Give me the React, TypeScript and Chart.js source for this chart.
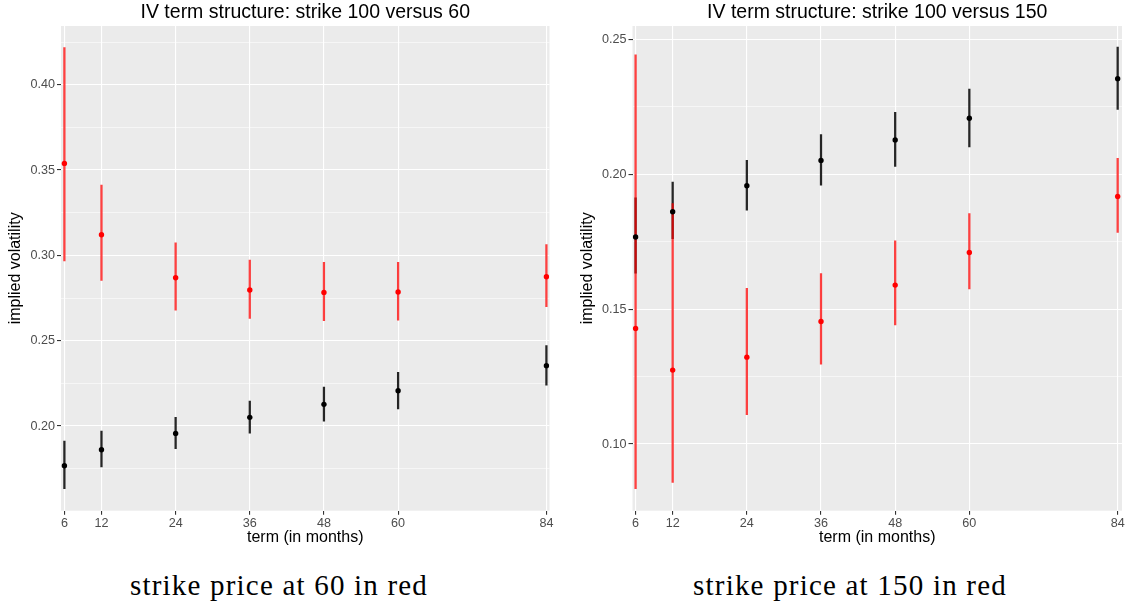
import React, { useEffect, useRef } from "react";
import { Chart, registerables } from "chart.js";

Chart.register(...registerables);

// ---- data ----
const terms = [6, 12, 24, 36, 48, 60, 84];

// strike 100 (black)
const iv100 = [0.1767, 0.1861, 0.1957, 0.2051, 0.2127, 0.2207, 0.2354];
const iv100Lo = [0.1633, 0.1761, 0.1867, 0.1959, 0.2029, 0.2101, 0.224];
const iv100Hi = [0.1912, 0.1971, 0.2051, 0.2147, 0.2229, 0.2315, 0.2471];

// strike 60 (red, left panel)
const iv60 = [0.3539, 0.3121, 0.2869, 0.2797, 0.2783, 0.2785, 0.2875];
const iv60Lo = [0.2968, 0.2853, 0.2679, 0.2631, 0.2617, 0.2621, 0.2699];
const iv60Hi = [0.4217, 0.3412, 0.3074, 0.2972, 0.2959, 0.2959, 0.3064];

// strike 150 (red, right panel)
const iv150 = [0.1428, 0.1274, 0.1322, 0.1454, 0.1589, 0.171, 0.1917];
const iv150Lo = [0.0835, 0.0858, 0.1109, 0.1296, 0.1441, 0.1575, 0.1784];
const iv150Hi = [0.2442, 0.1891, 0.1577, 0.1632, 0.1753, 0.1854, 0.2059];

const leftYMajor = [0.2, 0.25, 0.3, 0.35, 0.4];
const leftYMinor = [0.175, 0.225, 0.275, 0.325, 0.375, 0.425];
const rightYMajor = [0.1, 0.15, 0.2, 0.25];
const rightYMinor = [0.125, 0.175, 0.225];

const SANS = '"Liberation Sans", Arial, Helvetica, sans-serif';
const SERIF = '"Liberation Serif", "Times New Roman", serif';

type PanelProps = {
  title: string;
  red: number[];
  redLo: number[];
  redHi: number[];
  yMin: number;
  yMax: number;
  yMajor: number[];
  yMinor: number[];
  xMin: number;
  xMax: number;
  left: number;
  width: number;
  height: number;
  axisW: number;
  yTitlePad: number;
  padRight: number;
  plotBottom: number;
};

function Panel(p: PanelProps) {
  const ref = useRef<HTMLCanvasElement>(null);
  useEffect(() => {
    const canvas = ref.current;
    if (!canvas) return;
    const isMajor = (v: number) => p.yMajor.some((m) => Math.abs(m - v) < 1e-9);
    const yTicks = [...p.yMinor, ...p.yMajor].sort((a, b) => a - b);
    const bgPlugin = {
      id: "panelBg",
      beforeDraw(chart: any) {
        const { ctx, chartArea: a } = chart;
        ctx.save();
        ctx.fillStyle = "#EBEBEB";
        ctx.fillRect(a.left, a.top, a.right - a.left, a.bottom - a.top);
        ctx.restore();
      },
    };
    const chart = new Chart(canvas, {
      type: "scatter",
      data: {
        datasets: [
          {
            type: "bar",
            data: terms.map((t, i) => ({ x: t, y: [iv100Lo[i], iv100Hi[i]] })),
            backgroundColor: "rgba(0,0,0,0.85)",
            borderWidth: 0,
            barThickness: 1.6,
            grouped: false,
            order: 4,
          } as any,
          {
            type: "bar",
            data: terms.map((t, i) => ({ x: t, y: [p.redLo[i], p.redHi[i]] })),
            backgroundColor: "rgba(255,0,0,0.75)",
            borderWidth: 0,
            barThickness: 1.6,
            grouped: false,
            order: 3,
          } as any,
          {
            type: "scatter",
            data: terms.map((t, i) => ({ x: t, y: iv100[i] })),
            pointRadius: 2.7,
            pointBackgroundColor: "#000000",
            pointBorderWidth: 0,
            order: 2,
          },
          {
            type: "scatter",
            data: terms.map((t, i) => ({ x: t, y: p.red[i] })),
            pointRadius: 2.7,
            pointBackgroundColor: "#FF0000",
            pointBorderWidth: 0,
            order: 1,
          },
        ],
      },
      options: {
        animation: false,
        responsive: false,
        devicePixelRatio: 1,
        layout: { padding: { left: 0, right: p.padRight, top: 0, bottom: 0 } },
        plugins: {
          legend: { display: false },
          tooltip: { enabled: false },
          title: {
            display: true,
            text: p.title,
            fullSize: false,
            color: "#000000",
            font: { family: SANS, size: 19.5, weight: "normal" },
            padding: { top: 1.3, bottom: 1.3 },
          },
        },
        scales: {
          x: {
            type: "linear",
            min: p.xMin,
            max: p.xMax,
            offset: false,
            afterBuildTicks: (s: any) => {
              s.ticks = terms.map((v) => ({ value: v }));
            },
            afterFit: (s: any) => {
              s.height = p.height - p.plotBottom;
            },
            grid: {
              offset: false,
              color: "#FFFFFF",
              lineWidth: 1.1,
              tickColor: "#333333",
              tickLength: 4,
              tickWidth: 1.1,
            },
            border: { display: false },
            ticks: {
              color: "#4D4D4D",
              font: { family: SANS, size: 12.6 },
              padding: 1,
              maxRotation: 0,
              autoSkip: false,
              callback: (v: any) => String(v),
            },
            title: {
              display: true,
              text: "term (in months)",
              color: "#000000",
              font: { family: SANS, size: 16 },
              padding: { top: 0, bottom: 2.9 },
            },
          },
          y: {
            type: "linear",
            min: p.yMin,
            max: p.yMax,
            afterBuildTicks: (s: any) => {
              s.ticks = yTicks.map((v) => ({ value: v }));
            },
            afterFit: (s: any) => {
              s.width = p.axisW;
            },
            grid: {
              color: "#FFFFFF",
              lineWidth: (c: any) => (c.tick && isMajor(c.tick.value) ? 1.1 : 0.55),
              tickColor: (c: any) =>
                c.tick && isMajor(c.tick.value) ? "#333333" : "rgba(0,0,0,0)",
              tickLength: 4,
              tickWidth: 1.1,
            },
            border: { display: false },
            ticks: {
              color: "#4D4D4D",
              font: { family: SANS, size: 12.6 },
              padding: 2,
              autoSkip: false,
              callback: (v: any) => (isMajor(Number(v)) ? Number(v).toFixed(2) : ""),
            },
            title: {
              display: true,
              text: "implied volatility",
              color: "#000000",
              font: { family: SANS, size: 16 },
              padding: { top: p.yTitlePad, bottom: 0 },
            },
          },
        },
      } as any,
      plugins: [bgPlugin],
    });
    return () => chart.destroy();
  }, []);
  return (
    <canvas
      ref={ref}
      width={p.width}
      height={p.height}
      style={{ position: "absolute", left: p.left, top: 0, width: p.width, height: p.height }}
    />
  );
}

export default function App() {
  const captionStyle: React.CSSProperties = {
    position: "absolute",
    top: 570.7,
    fontFamily: SERIF,
    fontSize: 29,
    lineHeight: "29px",
    letterSpacing: "1.2px",
    textAlign: "center",
    color: "#000",
    whiteSpace: "nowrap",
  };
  return (
    <div
      style={{
        position: "absolute",
        left: 0,
        top: 0,
        width: 1129,
        height: 602,
        background: "#FFFFFF",
        overflow: "hidden",
      }}
    >
      <Panel
        title="IV term structure: strike 100 versus 60"
        red={iv60}
        redLo={iv60Lo}
        redHi={iv60Hi}
        yMin={0.1504}
        yMax={0.4344}
        yMajor={leftYMajor}
        yMinor={leftYMinor}
        xMin={5.45}
        xMax={84.5}
        left={0}
        width={565}
        height={550}
        axisW={61}
        yTitlePad={6.4}
        padRight={15.5}
        plotBottom={510.7}
      />
      <Panel
        title="IV term structure: strike 100 versus 150"
        red={iv150}
        redLo={iv150Lo}
        redHi={iv150Hi}
        yMin={0.0753}
        yMax={0.2549}
        yMajor={rightYMajor}
        yMinor={rightYMinor}
        xMin={5.5}
        xMax={84.7}
        left={565}
        width={564}
        height={550}
        axisW={67.5}
        yTitlePad={12.9}
        padRight={7}
        plotBottom={510.7}
      />
      <div style={{ ...captionStyle, left: 0, width: 558 }}>strike price at 60 in red</div>
      <div style={{ ...captionStyle, left: 571, width: 558 }}>strike price at 150 in red</div>
    </div>
  );
}
